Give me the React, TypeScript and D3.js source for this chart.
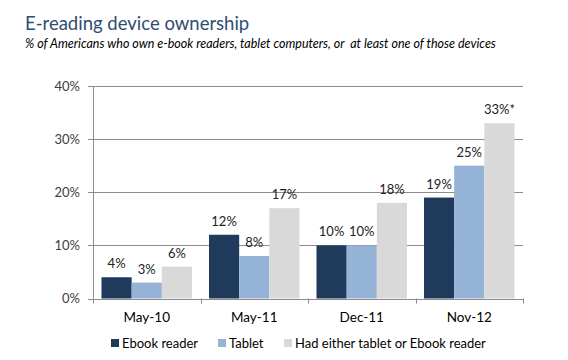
import React from "react";
import * as d3 from "d3";

const categories = ["May-10", "May-11", "Dec-11", "Nov-12"];
const seriesNames = ["Ebook reader", "Tablet", "Had either tablet or Ebook reader"];
const ebook = [4, 12, 10, 19];
const tablet = [3, 8, 10, 25];
const either = [6, 17, 18, 33];
const labelSuffix = [["", "", "", ""], ["", "", "", ""], ["", "", "", "*"]];
const yTicks = [0, 10, 20, 30, 40];
const colors = ["#203a5c", "#95b3d7", "#d9d9d9"];

export default function App() {
  const W = 568, H = 360;
  const left = 93, right = 523, top = 86, bottom = 298.5;
  const x = d3.scaleBand<string>().domain(categories).range([left, right]).paddingInner(0).paddingOuter(0);
  const inner = d3.scaleBand<string>().domain(seriesNames).range([8.5, x.bandwidth() - 8.5]).padding(0);
  const y = d3.scaleLinear().domain([0, 40]).range([bottom, top]);
  const series = [ebook, tablet, either];
  const font = "Lato, 'Open Sans', sans-serif";
  const legendX = [111, 218, 284];
  return (
    <svg width={W} height={H} style={{ position: "absolute", left: 0, top: 0, background: "#fff" }} fontFamily={font}>
      <rect width={W} height={H} fill="#fff" />
      <text x={25} y={30} fontSize={18.5} fill="#2f4d6e">E-reading device ownership</text>
      <text x={25} y={48} fontSize={12.5} fontStyle="italic" fill="#000" style={{ whiteSpace: "pre" }}>% of Americans who own e-book readers, tablet computers, or  at least one of those devices</text>
      {yTicks.map((t) => (
        <g key={t}>
          {t > 0 && <line x1={left} x2={right} y1={Math.round(y(t)) + 0.5} y2={Math.round(y(t)) + 0.5} stroke="#8c8c8c" />}
          <line x1={left - 5} x2={left} y1={Math.round(y(t)) + 0.5} y2={Math.round(y(t)) + 0.5} stroke="#8c8c8c" />
          <text x={80} y={y(t) + 4.5} fontSize={13} textAnchor="end" fill="#404040">{t}%</text>
        </g>
      ))}
      {series.map((vals, si) =>
        categories.map((c, ci) => {
          const bx = (x(c) as number) + (inner(seriesNames[si]) as number);
          const bw = inner.bandwidth();
          return (
            <g key={si + "-" + ci}>
              <rect x={bx} y={y(vals[ci])} width={bw} height={bottom - y(vals[ci])} fill={colors[si]} />
              <text x={bx + bw / 2} y={y(vals[ci]) - 9} fontSize={13} textAnchor="middle" fill="#222">
                {vals[ci]}%{labelSuffix[si][ci]}
              </text>
            </g>
          );
        })
      )}
      <line x1={left + 0.5} x2={left + 0.5} y1={top} y2={bottom} stroke="#8c8c8c" />
      <line x1={left} x2={right} y1={Math.round(bottom) + 0.5} y2={Math.round(bottom) + 0.5} stroke="#8c8c8c" />
      {[...categories.map((c) => x(c) as number), right].map((v, i) => (
        <line key={i} x1={Math.round(v) + 0.5} x2={Math.round(v) + 0.5} y1={bottom} y2={bottom + 5} stroke="#8c8c8c" />
      ))}
      {categories.map((c) => (
        <text key={c} x={(x(c) as number) + x.bandwidth() / 2} y={321.5} fontSize={13.5} textAnchor="middle" fill="#000">{c}</text>
      ))}
      {seriesNames.map((s, i) => (
        <g key={s}>
          <rect x={legendX[i]} y={339} width={8} height={8} fill={colors[i]} />
          <text x={legendX[i] + 11} y={347.5} fontSize={13} fill="#000">{s}</text>
        </g>
      ))}
    </svg>
  );
}
